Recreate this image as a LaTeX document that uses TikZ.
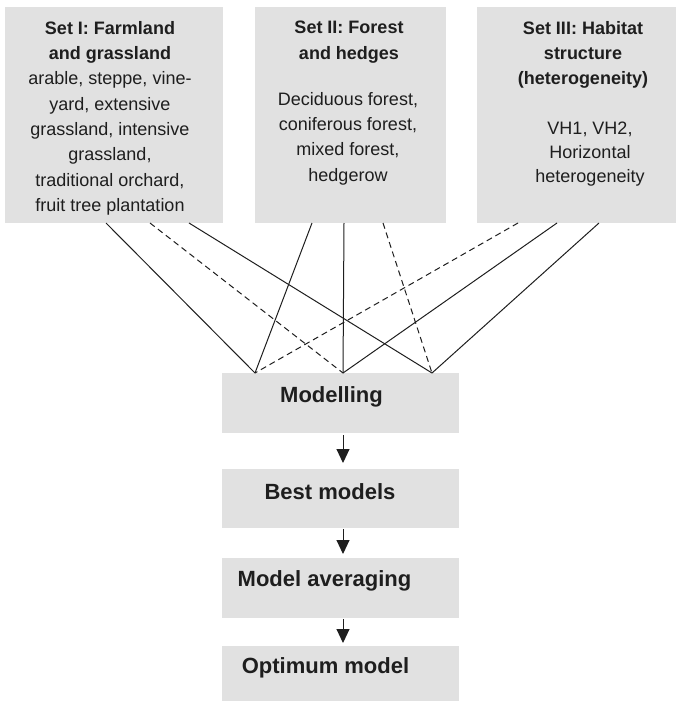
\documentclass[tikz,border=0pt]{standalone}
\usepackage{fontspec}
\setmainfont{Liberation Sans}
\usetikzlibrary{arrows.meta,calc}
\definecolor{boxgray}{RGB}{225,225,225}
\definecolor{ink}{RGB}{30,30,30}
\tikzset{
  graybox/.style={fill=boxgray, draw=none, inner sep=0pt, outer sep=0pt},
  txt/.style={text=ink, align=center, inner sep=0pt, font=\fontsize{18}{25.3}\selectfont},
  bigtxt/.style={text=ink, inner sep=0pt, font=\fontsize{22}{26}\selectfont\bfseries},
  link/.style={line width=1pt, draw=ink},
  dlink/.style={link, dash pattern=on 6pt off 4pt},
  flow/.style={line width=1pt, draw=ink, -{Triangle[length=14pt,width=13pt]}}
}
\begin{document}
\begin{tikzpicture}[x=1pt,y=-1pt]
\useasboundingbox (0,0) rectangle (675,701);
% top boxes
\node[graybox, minimum width=218pt, minimum height=216pt] (b1) at (114,115) {};
\node[graybox, minimum width=191pt, minimum height=216pt] (b2) at (350.5,115) {};
\node[graybox, minimum width=208pt, minimum height=216pt] (b3) at (581,115) {};
% texts
\node[txt, anchor=north] (t1) at (110,21) {\textbf{Set I: Farmland}\\\textbf{and grassland}\\arable, steppe, vine-\\yard, extensive\\grassland, intensive\\grassland,\\traditional orchard,\\fruit tree plantation};
\node[txt, anchor=north] (t2h) at (349,21) {\textbf{Set II: Forest}\\\textbf{and hedges}};
\node[txt, anchor=north] (t2b) at (348,92) {Deciduous forest,\\coniferous forest,\\mixed forest,\\hedgerow};
\node[txt, anchor=north] (t3h) at (583,21) {\textbf{Set III: Habitat}\\\textbf{structure}\\\textbf{(heterogeneity)}};
\node[txt, anchor=north, font=\fontsize{18}{24}\selectfont] (t3b) at (590,122) {VH1, VH2,\\Horizontal\\heterogeneity};
% lower boxes
\node[graybox, minimum width=237pt, minimum height=60pt] (m1) at (340.5,403) {};
\node[graybox, minimum width=237pt, minimum height=59pt] (m2) at (340.5,498.5) {};
\node[graybox, minimum width=237pt, minimum height=60pt] (m3) at (340.5,588) {};
\node[graybox, minimum width=237pt, minimum height=58pt] (m4) at (340.5,675) {};
\node[bigtxt] (m1t) at (331.5,397) {Modelling};
\node[bigtxt] (m2t) at (330,492) {Best models};
\node[bigtxt] (m3t) at (324.5,581) {Model averaging};
\node[bigtxt] (m4t) at (325.5,668) {Optimum model};
% anchor coordinates on box edges
\coordinate (a1) at ($(b1.south west)+(101,0)$);
\coordinate (a2) at ($(b1.south west)+(145,0)$);
\coordinate (a3) at ($(b1.south west)+(184,0)$);
\coordinate (a4) at ($(b2.south west)+(57,0)$);
\coordinate (a5) at ($(b2.south west)+(89,0)$);
\coordinate (a6) at ($(b2.south west)+(128,0)$);
\coordinate (a7) at ($(b3.south west)+(41,0)$);
\coordinate (a8) at ($(b3.south west)+(80,0)$);
\coordinate (a9) at ($(b3.south west)+(122,0)$);
\coordinate (ml) at ($(m1.north west)+(33,0)$);
\coordinate (mc) at ($(m1.north west)+(121,0)$);
\coordinate (mr) at ($(m1.north west)+(210,0)$);
\draw[link] (a1) -- (ml);
\draw[dlink] (a2) -- (mc);
\draw[link] (a3) -- (mr);
\draw[link] (a4) -- (ml);
\draw[link] (a5) -- (mc);
\draw[dlink] (a6) -- (mr);
\draw[dlink] (a7) -- (ml);
\draw[link] (a8) -- (mc);
\draw[link] (a9) -- (mr);
% flow arrows
\draw[flow, shorten <=2pt, shorten >=6pt] ($(m1.south)+(2.5,0)$) -- ($(m2.north)+(2.5,0)$);
\draw[flow, shorten <=1pt, shorten >=4pt] ($(m2.south)+(2.5,0)$) -- ($(m3.north)+(2.5,0)$);
\draw[flow, shorten <=1pt, shorten >=3pt] ($(m3.south)+(2.5,0)$) -- ($(m4.north)+(2.5,0)$);
\end{tikzpicture}
\end{document}
